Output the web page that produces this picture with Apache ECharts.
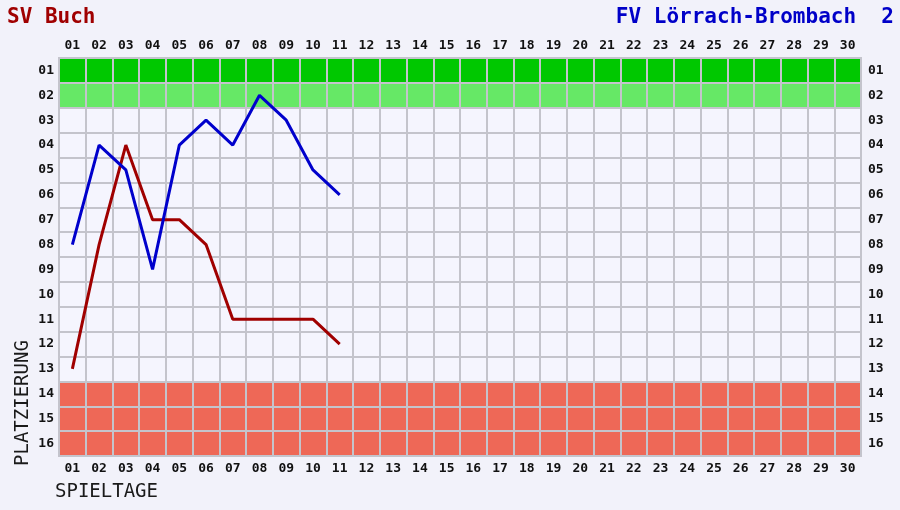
<!DOCTYPE html>
<html>
<head>
<meta charset="utf-8">
<script src="https://cdn.jsdelivr.net/npm/echarts@6/dist/echarts.min.js"></script>
<style>
  html, body { margin: 0; padding: 0; background: #f2f2fa; }
  #chart { width: 900px; height: 510px; }
</style>
</head>
<body>
<div id="chart"></div>
<script>
    // Spieltage 01..30, Platzierung 01..16
    var spieltage = ['01','02','03','04','05','06','07','08','09','10','11','12','13','14','15',
                     '16','17','18','19','20','21','22','23','24','25','26','27','28','29','30'];
    var plaetze = ['01','02','03','04','05','06','07','08','09','10','11','12','13','14','15','16'];

    var teamHeim = 'SV Buch';
    var teamGast = 'FV Lörrach-Brombach  2';
    var posBuch = [13, 8, 4, 7, 7, 8, 11, 11, 11, 11, 12];
    var posLoerrach = [8, 4, 5, 9, 4, 3, 4, 2, 3, 5, 6];

    // Zeilenfarben: Aufstieg, Relegation, Mittelfeld, Abstieg
    var rowColors = ['#00c800', '#66e866'];
    for (var r = 2; r < 13; r++) rowColors.push('#f5f5fe');
    rowColors.push('#ee6857', '#ee6857', '#ee6857');

    function toPairs(arr) {
        var out = [];
        for (var i = 0; i < arr.length; i++) {
            out.push([spieltage[i], plaetze[arr[i] - 1]]);
        }
        return out;
    }

    var labelFont = {
        color: '#111',
        fontFamily: 'DejaVu Sans Mono',
        fontSize: 13,
        fontWeight: 'bold'
    };
    var gridLine = { show: true, lineStyle: { color: '#c4c4cc', width: 2 } };

    var chart = echarts.init(document.getElementById('chart'));
    var option = {
        backgroundColor: '#f2f2fa',
        animation: false,
        grid: {
            left: 59, top: 58, width: 802, height: 398,
            show: true, borderColor: '#c4c4cc', borderWidth: 2
        },
        xAxis: [
            {
                type: 'category', data: spieltage, position: 'top', boundaryGap: true,
                axisLine: { show: false }, axisTick: { show: false },
                axisLabel: Object.assign({ margin: 6, interval: 0 }, labelFont),
                splitLine: gridLine
            },
            {
                type: 'category', data: spieltage, position: 'bottom', boundaryGap: true,
                axisLine: { show: false }, axisTick: { show: false },
                axisLabel: Object.assign({ margin: 6, interval: 0 }, labelFont),
                splitLine: { show: false }
            }
        ],
        yAxis: [
            {
                type: 'category', data: plaetze, inverse: true, position: 'left', boundaryGap: true,
                axisLine: { show: false }, axisTick: { show: false },
                axisLabel: Object.assign({ margin: 5, interval: 0 }, labelFont),
                splitLine: gridLine,
                splitArea: { show: true, areaStyle: { color: rowColors } }
            },
            {
                type: 'category', data: plaetze, inverse: true, position: 'right', boundaryGap: true,
                axisLine: { show: false }, axisTick: { show: false },
                axisLabel: Object.assign({ margin: 7, interval: 0 }, labelFont),
                splitLine: { show: false }
            }
        ],
        graphic: [
            {
                type: 'text', left: 7, top: 7,
                style: { text: teamHeim, fill: '#a00000', font: 'bold 21px "DejaVu Sans Mono"' }
            },
            {
                type: 'text', right: 6, top: 7,
                style: { text: teamGast, fill: '#0000c8', font: 'bold 21px "DejaVu Sans Mono"' }
            },
            {
                type: 'text', left: 55, top: 483,
                style: { text: 'SPIELTAGE', fill: '#1a1a1a', font: '19px "DejaVu Sans Mono"' }
            },
            {
                type: 'text', x: 14, y: 466, rotation: Math.PI / 2,
                style: { text: 'PLATZIERUNG', fill: '#1a1a1a', font: '19px "DejaVu Sans Mono"' }
            }
        ],
        series: [
            {
                name: teamHeim, type: 'line', xAxisIndex: 0, yAxisIndex: 0,
                data: toPairs(posBuch), symbol: 'none',
                lineStyle: { color: '#a00000', width: 3 }
            },
            {
                name: teamGast, type: 'line', xAxisIndex: 0, yAxisIndex: 0,
                data: toPairs(posLoerrach), symbol: 'none',
                lineStyle: { color: '#0000cc', width: 3 }
            }
        ]
    };
    chart.setOption(option);
</script>
</body>
</html>
